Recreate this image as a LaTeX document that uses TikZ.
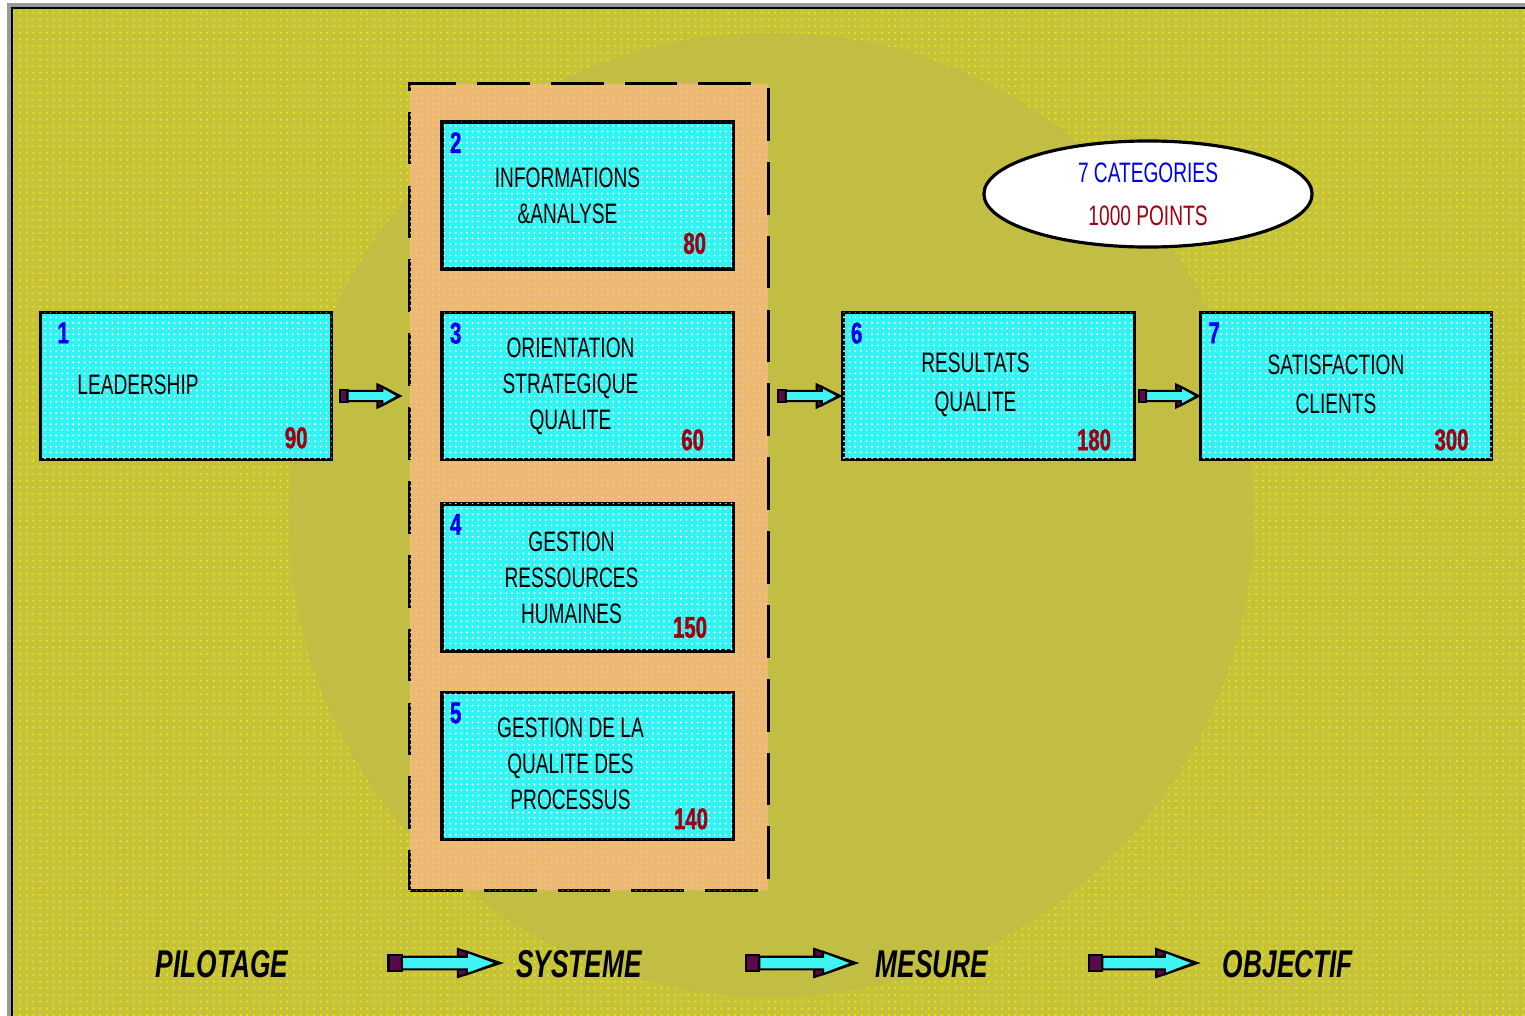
\documentclass[tikz,border=0pt]{standalone}
\usepackage{fontspec}
\newfontfamily\diagfont[FakeStretch=0.68]{Liberation Sans}
\newfontfamily\numfont[FakeStretch=0.68,FakeBold=1.2]{Liberation Sans}
\usetikzlibrary{shapes.geometric,patterns.meta,calc}
\definecolor{bgolive}{HTML}{C6C23A}
\definecolor{dotyellow}{HTML}{F0EE10}
\definecolor{discolive}{HTML}{C2BE44}
\definecolor{frametan}{HTML}{ECB87A}
\definecolor{boxcyan}{HTML}{30F4F4}
\definecolor{arrowcyan}{HTML}{40F4F4}
\definecolor{arrowplum}{HTML}{5A0A4A}
\definecolor{numblue}{HTML}{0000F0}
\definecolor{numred}{HTML}{A00010}
\tikzset{
 arrow len/.store in=\arrlen,arrow len=60,
 arrow half/.store in=\arrhalf,arrow half=11,
 blockarrow/.pic={
  \filldraw[fill=arrowplum,line width=0.6pt](-0.38*\arrlen,-\arrhalf)--(0,0)--(-0.38*\arrlen,\arrhalf)--cycle;
  \filldraw[fill=arrowplum,line width=0.6pt](-\arrlen,-0.55*\arrhalf)rectangle(-0.88*\arrlen,0.55*\arrhalf);
  \filldraw[fill=arrowcyan,line width=0.6pt](-0.88*\arrlen,-0.45*\arrhalf)--(-0.3*\arrlen,-0.45*\arrhalf)--(-0.3*\arrlen,-0.8*\arrhalf)--(-0.03*\arrlen,0)
   --(-0.3*\arrlen,0.8*\arrhalf)--(-0.3*\arrlen,0.45*\arrhalf)--(-0.88*\arrlen,0.45*\arrhalf)--cycle;
 }
}
\begin{document}
\begin{tikzpicture}[x=0.01cm,y=-0.01cm,
 critbox/.style={draw=black,line width=0.9pt,fill=boxcyan,postaction={pattern={Dots[distance=1.6pt,radius=0.3pt]},pattern color=white},
  minimum width=2.91cm,minimum height=1.47cm,inner sep=0pt},
 sysframe/.style={draw=black,line width=0.9pt,dash pattern=on 15pt off 6pt,fill=frametan,
  postaction={pattern={Dots[distance=1.6pt,radius=0.3pt]},pattern color=frametan!60!yellow},
  minimum width=3.58cm,minimum height=8.06cm,inner sep=0pt},
 boxtext/.style={font=\diagfont\fontsize{8}{10.2}\selectfont,align=center,inner sep=0pt},
 widetext/.style={font=\diagfont\fontsize{8}{11.1}\selectfont,align=center,inner sep=0pt},
 numid/.style={font=\numfont\bfseries\fontsize{8.5}{10}\selectfont,text=numblue,anchor=north west,inner sep=0pt},
 numpts/.style={font=\numfont\bfseries\fontsize{8.5}{10}\selectfont,text=numred,anchor=south east,inner sep=0pt},
 steplabel/.style={font=\diagfont\bfseries\itshape\fontsize{11}{13}\selectfont,inner sep=0pt},
 tagellipse/.style={ellipse,draw=black,line width=0.9pt,fill=white,minimum width=3.28cm,minimum height=1.06cm,inner sep=0pt,
  align=center,font=\diagfont\fontsize{8}{12.2}\selectfont}]
\useasboundingbox(0,0)rectangle(1525,1015);
\fill[white](0,0)rectangle(1525,1015);
\fill[bgolive](12,8)rectangle(1530,1020);
\fill[pattern={Dots[distance=1.9pt,radius=0.3pt]},pattern color=dotyellow](12,8)rectangle(1530,1020);
\fill[discolive](771,515)circle[radius=4.82cm];
\draw[black!40,line width=1.2pt](9,1020)|-(1530,5);
\draw[line width=0.8pt](12,1020)|-(1530,8);
\node[sysframe](grp)at(589,487){};
\node[critbox](lead)at(186,386){};
\node[critbox](info)at(587.5,195.5){};
\node[critbox](orient)at(587.5,386){};
\node[critbox](rh)at(587.5,577.5){};
\node[critbox](proc)at(587.5,766){};
\node[critbox](resq)at(988.5,386){};
\node[critbox](satis)at(1346,386){};
\node[boxtext](leadtxt)at($(lead)+(-48,-1)$){LEADERSHIP};
\node[boxtext](infotxt)at($(info)+(-20,0)$){INFORMATIONS\\\&ANALYSE};
\node[boxtext](orienttxt)at($(orient)+(-17,0)$){ORIENTATION\\STRATEGIQUE\\QUALITE};
\node[boxtext](rhtxt)at($(rh)+(-16,0)$){GESTION\\RESSOURCES\\HUMAINES};
\node[boxtext](proctxt)at($(proc)+(-17,-2)$){GESTION DE LA\\QUALITE DES\\PROCESSUS};
\node[widetext](resqtxt)at($(resq)+(-13,-1.5)$){RESULTATS\\QUALITE};
\node[widetext](satistxt)at($(satis)+(-10,-1.5)$){SATISFACTION\\CLIENTS};
\node[numid](leadid)at($(lead.north west)+(18,11)$){1};
\node[numid](infoid)at($(info.north west)+(9,11)$){2};
\node[numid](orientid)at($(orient.north west)+(9,11)$){3};
\node[numid](rhid)at($(rh.north west)+(9,11)$){4};
\node[numid](procid)at($(proc.north west)+(9,11)$){5};
\node[numid](resqid)at($(resq.north west)+(9,11)$){6};
\node[numid](satisid)at($(satis.north west)+(9,11)$){7};
\node[numpts](leadpts)at($(lead.south east)+(-25,-12)$){90};
\node[numpts](infopts)at($(info.south east)+(-28,-16)$){80};
\node[numpts](orientpts)at($(orient.south east)+(-30,-10)$){60};
\node[numpts](rhpts)at($(rh.south east)+(-27,-14)$){150};
\node[numpts](procpts)at($(proc.south east)+(-26,-11)$){140};
\node[numpts](resqpts)at($(resq.south east)+(-24,-10)$){180};
\node[numpts](satispts)at($(satis.south east)+(-24,-10)$){300};
\node[tagellipse](tally)at(1148,194){\textcolor{numblue}{7 CATEGORIES}\\\textcolor{numred}{1000 POINTS}};
\node[steplabel](pilot)at(222,964){PILOTAGE};
\node[steplabel](systeme)at(579,964){SYSTEME};
\node[steplabel](mesure)at(932,964){MESURE};
\node[steplabel](objectif)at(1288,964){OBJECTIF};
\pic[arrow len=60,arrow half=11.5]at($(grp.west|-lead.east)+(-8,10)$){blockarrow};
\pic[arrow len=62,arrow half=11.5]at($(resq.west)+(-1,10)$){blockarrow};
\pic[arrow len=60,arrow half=11.5]at($(satis.west)+(0,10)$){blockarrow};
\pic[arrow len=112,arrow half=14]at($(systeme.west)+(-15,-1)$){blockarrow};
\pic[arrow len=110,arrow half=14]at($(mesure.west)+(-19,-1)$){blockarrow};
\pic[arrow len=108,arrow half=14]at($(objectif.west)+(-25,-1)$){blockarrow};
\end{tikzpicture}
\end{document}
